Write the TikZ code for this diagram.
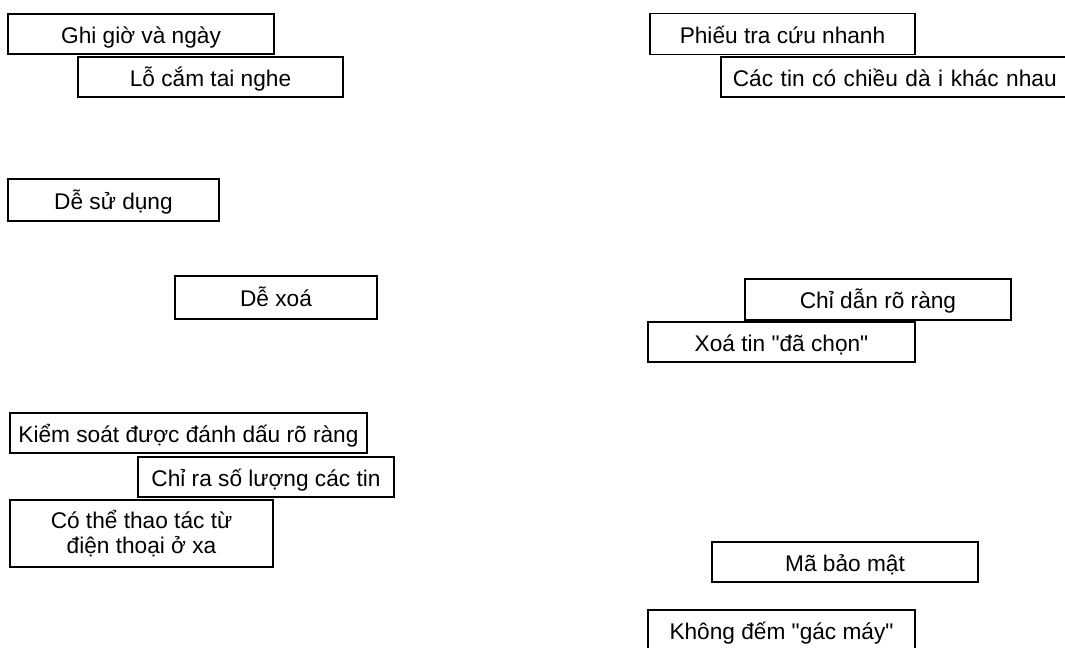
\documentclass[tikz,border=0pt]{standalone}
\usepackage{fontspec}
\setmainfont{Liberation Sans}[Ligatures=TeXOff]
\begin{document}
\begin{tikzpicture}[x=0.75pt,y=-0.75pt,
  box/.style={draw=black, line width=1.3pt, rectangle, inner sep=0pt,
    minimum height=40*0.75pt, font=\fontsize{17}{19}\selectfont, text=black},
  line1/.style={box, text height=13.5pt, text depth=0pt},
  dims/.style 2 args={minimum width={#1*0.75pt}, minimum height={#2*0.75pt}}]
\clip (0,0) rectangle (1065,647);
\fill[white] (0,0) rectangle (1065,647);
\node[line1, dims={266}{40}] (ghi) at (141,34) {Ghi giờ và ngày};
\node[line1, dims={265}{40}, fill=white] (lo) at (210.5,77) {Lỗ cắm tai nghe};
\node[line1, dims={265}{41}] (phieu) at (782.5,34) {Phiếu tra cứu nhanh};
\node[line1, dims={360}{40}, fill=white, anchor=west, align=left, text width={336*0.75pt}, inner xsep={12*0.75pt}] (cactin) at (720,77) {Các tin có chiều dà i khác nhau};
\node[line1, dims={211}{42}] (desd) at (113.5,200) {Dễ sử dụng};
\node[line1, dims={202}{43}] (dexoa) at (276,297.5) {Dễ xoá};
\node[line1, dims={266}{41}] (chidan) at (878,299.5) {Chỉ dẫn rõ ràng};
\node[line1, dims={267}{40}, fill=white] (xoatin) at (781.5,342) {Xoá tin "đã chọn"};
\node[line1, dims={357}{40}] (kiemsoat) at (188.5,433) {Kiểm soát được đánh dấu rõ ràng};
\node[line1, dims={256}{40}, fill=white] (chira) at (266,477) {Chỉ ra số lượng các tin};
\node[box, dims={263}{67}, fill=white, align=center] (cothe) at (141.5,533.5) {\raisebox{-2pt}{Có thể thao tác từ}\\\raisebox{-2pt}{điện thoại ở xa}};
\node[line1, dims={266}{40}] (mabm) at (845,562) {Mã bảo mật};
\node[line1, dims={267}{40}] (khong) at (781.5,630) {Không đếm "gác máy"};
\end{tikzpicture}
\end{document}
